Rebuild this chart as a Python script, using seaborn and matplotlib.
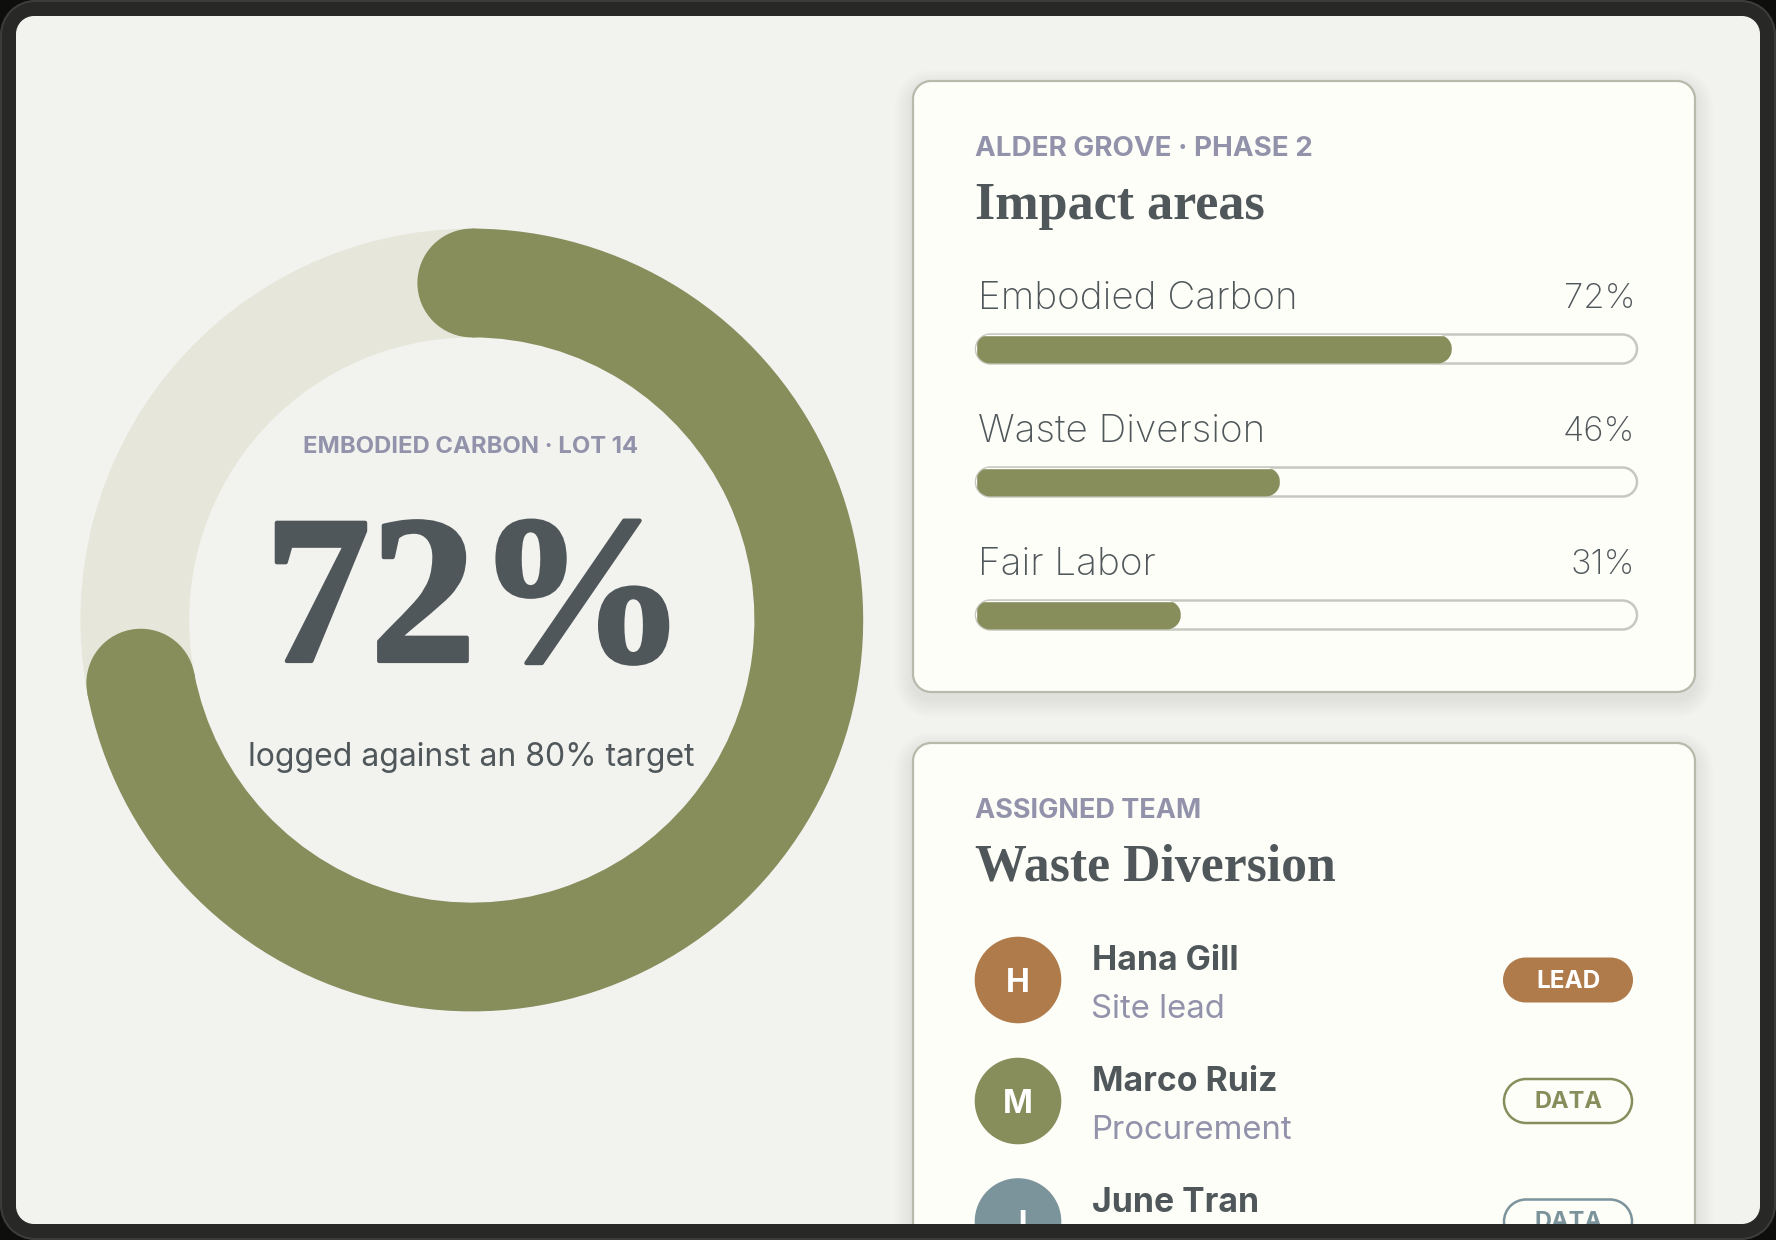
import numpy as np
import matplotlib
matplotlib.use("Agg")
import matplotlib.pyplot as plt
import matplotlib.patheffects as pe
from matplotlib.patches import PathPatch, Circle
from matplotlib.path import Path
from matplotlib.transforms import IdentityTransform
import seaborn as sns

# Data
donut_value = 72
area_names = ["Embodied Carbon", "Waste Diversion", "Fair Labor"]
area_values = [72, 46, 31]
team_names = ["Hana Gill", "Marco Ruiz", "June Tran"]
team_roles = ["Site lead", "Procurement", ""]
team_badges = ["LEAD", "DATA", "DATA"]
team_initials = ["H", "M", "J"]

OLIVE = "#888D5C"
TRACK = "#E6E7DA"
COPPER = "#B07B4B"
SLATE = "#7B939B"
INK = "#50575A"
MUTED = "#9292AB"
CARD = "#FEFEF9"
PANEL = "#F2F3EF"
team_colors = [COPPER, OLIVE, SLATE]

SANS = "Inter"
SERIF = "Liberation Serif"

W, H = 1776, 1240
sns.set_theme(style="white")
plt.rcParams["font.family"] = [SANS, "DejaVu Sans"]

fig = plt.figure(figsize=(W / 100, H / 100), dpi=100, facecolor="#0E0E0D")
base = fig.add_axes([0, 0, 1, 1])
base.set_xlim(0, W)
base.set_ylim(H, 0)
base.set_axis_off()


def corners(x0, y0, x1, y1, r):
    # outline of a box with true circular corners, open at the end
    verts, codes = [], []
    for start, cx, cy in [(180, x0 + r, y0 + r), (270, x1 - r, y0 + r),
                          (0, x1 - r, y1 - r), (90, x0 + r, y1 - r)]:
        a = Path.arc(start, start + 90)
        v = a.vertices * r + [cx, cy]
        c = a.codes.copy()
        c[0] = Path.LINETO if verts else Path.MOVETO
        verts.extend(v.tolist())
        codes.extend(c.tolist())
    verts.append(verts[0])
    codes.append(Path.LINETO)
    return verts, codes


def round_path(x0, y0, x1, y1, r):
    v, c = corners(x0, y0, x1, y1, r)
    return Path(v + [v[0]], c + [Path.CLOSEPOLY])


def rbox(x0, y0, x1, y1, r, **kw):
    p = PathPatch(round_path(x0, y0, x1, y1, r), **kw)
    base.add_patch(p)
    return p


def card(x0, y0, x1, y1):
    # soft shadow, stacked translucent boxes
    for s in range(18, 0, -2):
        rbox(x0 - s, y0 - s + 7, x1 + s, y1 + s + 7, 18 + s,
             fc="#5C6250", ec="none", alpha=0.012, zorder=2)
    rbox(x0, y0, x1, y1, 18, fc=CARD, ec="#B6BBAC", lw=1.6, zorder=3)


def label(x, y, s, size, color=INK, ha="left", weight="normal", family=SANS):
    return base.text(x, y, s, fontsize=size, color=color, ha=ha, va="baseline",
                     fontweight=weight, family=family, zorder=6)


# panel below, device frame with a hole on top so it crops what runs off the panel
rbox(10, 10, W - 10, H - 10, 24, fc=PANEL, ec="none", zorder=1)
ov, oc = corners(1, 1, W - 1, H - 1, 34)
iv, ic = corners(16, 16, 1760, 1224, 18)
frame_path = Path(ov + [ov[0]] + iv[::-1] + [iv[-1]],
                  oc + [Path.CLOSEPOLY] + [Path.MOVETO] + ic[1:][::-1] + [Path.CLOSEPOLY])
base.add_patch(PathPatch(frame_path, fc="#282826", ec="none", zorder=10))
rbox(1, 1, W - 1, H - 1, 34, fc="none", ec="#3C3C3A", lw=1.5, zorder=11)

card(913, 81, 1695, 692)
card(913, 743, 1695, 1320)

# Donut
CX, CY, R_OUT, R_IN = 471.8, 620, 391.4, 282.6
donut = fig.add_axes([(CX - R_OUT) / W, 1 - (CY + R_OUT) / H, 2 * R_OUT / W, 2 * R_OUT / H])
donut.pie([donut_value, 100 - donut_value], colors=[OLIVE, TRACK], startangle=90,
          counterclock=False, radius=1,
          wedgeprops=dict(width=1 - R_IN / R_OUT, linewidth=0))
donut.set_xlim(-1, 1)
donut.set_ylim(-1, 1)
donut.set_aspect("equal")
donut.patch.set_alpha(0)
mid = (1 + R_IN / R_OUT) / 2
cap = (1 - R_IN / R_OUT) / 2
for frac in [0, donut_value / 100]:
    a = np.pi / 2 - 2 * np.pi * frac
    donut.add_patch(Circle((mid * np.cos(a), mid * np.sin(a)), cap, fc=OLIVE, ec="none",
                           clip_on=False, zorder=5))

label(CX - 1, 453, "EMBODIED CARBON · LOT 14", 17.2, MUTED, "center", "bold")
big = label(CX + 4, 661, "72%", 152, INK, "center", "bold", SERIF)
big.set_path_effects([pe.withStroke(linewidth=3, foreground=INK)])
label(CX - 1, 766, "logged against an 80% target", 23, INK, "center")

# Impact card
label(975, 156, "ALDER GROVE · PHASE 2", 20, MUTED, weight="bold")
label(975, 219, "Impact areas", 37.5, INK, weight="bold", family=SERIF)

BAR_X0, BAR_X1 = 976, 1637
ROW0, PITCH, BAR_H = 349, 133, 29
bars = fig.add_axes([BAR_X0 / W, 1 - (ROW0 + 2.5 * PITCH) / H,
                     (BAR_X1 - BAR_X0) / W, 3 * PITCH / H])
sns.barplot(x=area_values, y=area_names, orient="h", color=OLIVE, saturation=1,
            width=BAR_H / PITCH, ax=bars)
bars.set_xlim(0, 100)
bars.set_ylim(2.5, -0.5)
bars.set_axis_off()
bars.patch.set_alpha(0)

for i, (name, val, bar) in enumerate(zip(area_names, area_values, bars.patches)):
    yc = ROW0 + i * PITCH
    rbox(BAR_X0, yc - BAR_H / 2, BAR_X1, yc + BAR_H / 2, BAR_H / 2,
         fc=CARD, ec="#C6C9BF", lw=1.8, zorder=4)
    label(978, yc - 40, name, 27.8, INK, weight="light")
    label(1635, yc - 41, f"{val}%", 25, INK, "right", weight="light")
    # round the bar ends
    (x0, y0), (x1, y1) = bars.transData.transform(bar.get_corners()[[0, 2]])
    lo, hi = min(y0, y1), max(y0, y1)
    bar.set_clip_path(round_path(x0, lo, x1, hi, (hi - lo) / 2), IdentityTransform())

# Team card
label(975, 818, "ASSIGNED TEAM", 19.5, MUTED, weight="bold")
label(975, 881, "Waste Diversion", 37.3, INK, weight="bold", family=SERIF)

AV_Y = [980, 1101, 1221.5]
for y, name, role, badge, initial, col in zip(AV_Y, team_names, team_roles, team_badges,
                                              team_initials, team_colors):
    base.add_patch(Circle((1018, y), 43.3, fc=col, ec="none", zorder=4))
    label(1018, y + 12, initial, 23, "white", "center", "bold")
    label(1092, y - 10, name, 24.3, INK, weight="bold")
    if role:
        label(1091, y + 38, role, 23.7, MUTED)
    if badge == "LEAD":
        rbox(1503, y - 22.5, 1633, y + 22.5, 22.5, fc=col, ec="none", zorder=4)
        label(1568, y + 8, badge, 17.5, "white", "center", "bold")
    else:
        rbox(1504, y - 22, 1632, y + 22, 22, fc=CARD, ec=col, lw=1.8, zorder=4)
        label(1568, y + 7, badge, 17, col, "center", "bold")

fig.savefig("out.png", dpi=100, facecolor=fig.get_facecolor())
